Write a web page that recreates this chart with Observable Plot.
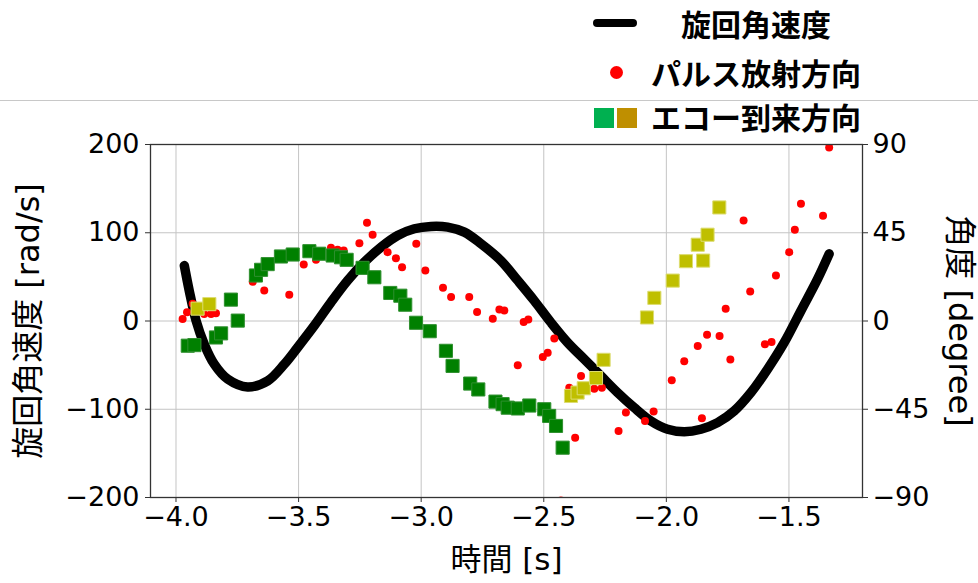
<!DOCTYPE html>
<html>
<head>
<meta charset="utf-8">
<script src="https://cdn.jsdelivr.net/npm/d3@7"></script>
<script src="https://cdn.jsdelivr.net/npm/@observablehq/plot@0.6"></script>
<style>
  body { margin: 0; background: white; }
  #wrap { position: relative; width: 978px; height: 583px; background: white; overflow: hidden; }
  #legend { position: relative; width: 978px; height: 130px; font-family: "Noto Sans CJK JP", sans-serif; }
  .lt { position: absolute; left: 556px; width: 400px; text-align: center; font-size: 30px; font-weight: bold; line-height: 30px; color: #000; white-space: nowrap; }
</style>
</head>
<body>
<div id="wrap">
  <div id="legend">
    <div style="position:absolute;left:0;top:100px;width:978px;height:1px;background:#c8c8c8"></div>
    <div style="position:absolute;left:593px;top:19px;width:44px;height:8px;border-radius:4px;background:#000"></div>
    <div class="lt" id="lg1" style="top:8px"></div>
    <div style="position:absolute;left:610px;top:66px;width:13px;height:13px;border-radius:50%;background:#ff0000"></div>
    <div class="lt" id="lg2" style="top:57px"></div>
    <div style="position:absolute;left:594px;top:108px;width:20px;height:20px;background:#00b050"></div>
    <div style="position:absolute;left:617px;top:108px;width:20px;height:20px;background:#bf8f00"></div>
    <div class="lt" id="lg3" style="top:101px"></div>
  </div>
  <div id="chart"></div>
</div>
<script>
// ---- data ----
const legendLabels = ["旋回角速度", "パルス放射方向", "エコー到来方向"];
const xLabel = "時間 [s]";
const yLeftLabel = "旋回角速度 [rad/s]";
const yRightLabel = "角度 [degree]";

const xTicks = [-4.0, -3.5, -3.0, -2.5, -2.0, -1.5];
const yLeftTicks = [-200, -100, 0, 100, 200];
const yRightTickLabels = [-90, -45, 0, 45, 90];

// rotation angular velocity (rad/s)
const curveTime  = [-3.966,-3.946,-3.918,-3.885,-3.844,-3.789,-3.708,-3.626,-3.558,-3.504,-3.436,-3.368,-3.300,-3.232,-3.164,-3.096,-3.028,-2.960,-2.892,-2.824,-2.756,-2.675,-2.606,-2.539,-2.471,-2.403,-2.335,-2.267,-2.199,-2.131,-2.063,-1.995,-1.927,-1.859,-1.791,-1.723,-1.655,-1.587,-1.519,-1.451,-1.383,-1.336];
const curveOmega = [62.8,34.4,0.3,-26.1,-48.9,-65.9,-74.7,-67.8,-48.9,-30.0,-5.3,21.1,45.8,66.6,83.6,96.9,104.5,107.2,106.4,100.7,87.5,68.5,45.8,23.1,-1.6,-24.3,-43.2,-62.2,-81.1,-98.2,-113.3,-122.7,-125.5,-122.7,-115.2,-101.9,-81.1,-54.5,-24.3,11.7,47.7,76.1];

// pulse emission direction (degree)
const pulseTime = [-3.973,-3.955,-3.932,-3.885,-3.857,-3.837,-3.687,-3.640,-3.538,-3.479,-3.429,-3.368,-3.341,-3.316,-3.252,-3.221,-3.198,-3.137,-3.103,-3.078,-3.020,-2.983,-2.911,-2.878,-2.804,-2.772,-2.708,-2.681,-2.661,-2.582,-2.563,-2.606,-2.457,-2.504,-2.484,-2.348,-2.396,-2.294,-2.263,-2.165,-2.195,-2.372,-2.430,-2.087,-2.052,-1.978,-1.927,-1.872,-1.834,-1.855,-1.783,-1.758,-1.739,-1.598,-1.571,-1.685,-1.658,-1.553,-1.499,-1.476,-1.451,-1.361,-1.336];
const pulseDeg  = [1.0,4.4,8.8,3.6,3.6,3.9,20.0,15.5,13.4,28.8,31.2,37.3,36.3,35.9,39.7,50.1,44.0,35.1,32.0,27.4,39.4,25.7,16.9,12.3,12.3,4.6,1.2,5.9,5.3,-0.5,0.8,-22.5,-8.9,-18.3,-16.2,-28.0,-34.0,-34.5,-34.0,-46.7,-56.1,-59.5,-91.5,-51.0,-46.2,-30.2,-20.5,-12.8,-7.0,-49.6,-7.7,6.3,-19.6,-11.8,-10.7,51.3,15.1,23.2,35.1,46.5,59.8,53.7,88.5];

// echo arrival direction (degree), green group
const echoGreenTime = [-3.952,-3.925,-3.837,-3.816,-3.776,-3.748,-3.674,-3.653,-3.626,-3.572,-3.524,-3.456,-3.416,-3.361,-3.327,-3.304,-3.239,-3.191,-3.126,-3.085,-3.065,-3.021,-2.965,-2.899,-2.872,-2.800,-2.767,-2.697,-2.668,-2.647,-2.606,-2.559,-2.498,-2.478,-2.450,-2.423];
const echoGreenDeg  = [-12.6,-12.3,-8.4,-6.3,10.9,0.2,23.2,26.1,29.0,32.9,33.9,35.6,34.3,33.4,32.5,31.2,27.1,22.3,14.3,12.9,8.3,-0.9,-5.2,-15.2,-22.9,-31.9,-34.9,-41.1,-42.4,-44.2,-44.6,-43.1,-45.0,-48.4,-53.5,-64.6];

// echo arrival direction (degree), yellow group
const echoYellowTime = [-3.912,-3.864,-2.389,-2.362,-2.337,-2.287,-2.256,-2.079,-2.049,-1.974,-1.920,-1.850,-1.872,-1.832,-1.784];
const echoYellowDeg  = [6.3,8.6,-38.2,-36.5,-34.3,-29.1,-19.8,1.8,11.8,20.6,30.5,30.8,38.9,44.0,57.9];

// ---- build ----
document.getElementById("lg1").textContent = legendLabels[0];
document.getElementById("lg2").textContent = legendLabels[1];
document.getElementById("lg3").textContent = legendLabels[2];

const degToLeft = 200 / 90;
const curve = curveTime.map((t, i) => ({t, v: curveOmega[i]}));
const pulse = pulseTime.map((t, i) => ({t, v: pulseDeg[i] * degToLeft}));
const green = echoGreenTime.map((t, i) => ({t, v: echoGreenDeg[i] * degToLeft}));
const yellow = echoYellowTime.map((t, i) => ({t, v: echoYellowDeg[i] * degToLeft}));

const fmtInt = d3.format("d");
const fmtX = d3.format(".1f");

const chart = Plot.plot({
  width: 978,
  height: 453,
  marginLeft: 150,
  marginRight: 116,
  marginTop: 14,
  marginBottom: 86,
  style: {fontFamily: "'DejaVu Sans', 'Noto Sans CJK JP', sans-serif", fontSize: "27px", color: "#000", background: "white", overflow: "visible"},
  x: {domain: [-4.104, -1.2]},
  y: {domain: [-200, 200]},
  marks: [
    Plot.gridX({ticks: xTicks, stroke: "#c4c4c4", strokeOpacity: 1, strokeWidth: 1}),
    Plot.gridY({ticks: yLeftTicks, stroke: "#c4c4c4", strokeOpacity: 1, strokeWidth: 1}),
    Plot.line(curve, {x: "t", y: "v", stroke: "#000", strokeWidth: 9.5, curve: "catmull-rom", strokeLinecap: "round", strokeLinejoin: "round"}),
    Plot.dot(pulse, {x: "t", y: "v", r: 4, fill: "#ff0000", stroke: "none", clip: true}),
    Plot.dot(green, {x: "t", y: "v", symbol: "square", r: 7.4, fill: "#008000", stroke: "#2f8f2f", strokeWidth: 1}),
    Plot.dot(yellow, {x: "t", y: "v", symbol: "square", r: 7.4, fill: "#bfbf00", stroke: "#dcdc70", strokeWidth: 1}),
    Plot.frame({stroke: "#333", strokeWidth: 1.3}),
    Plot.axisX({ticks: xTicks, tickFormat: fmtX, tickSize: 5, tickPadding: 4, label: null, fontSize: 27, stroke: "#333"}),
    Plot.axisY({anchor: "left", ticks: yLeftTicks, tickFormat: fmtInt, tickSize: 5, tickPadding: 6, label: null, fontSize: 27, stroke: "#333"}),
    Plot.axisY({anchor: "right", ticks: yLeftTicks, tickFormat: v => fmtInt(yRightTickLabels[yLeftTicks.indexOf(v)]), tickSize: 5, tickPadding: 5, label: null, fontSize: 27, stroke: "#333"}),
    Plot.text([yLeftLabel], {text: d => d, frameAnchor: "left", dx: -122, rotate: -90, textAnchor: "middle", lineAnchor: "middle", fontSize: 32, fill: "#000"}),
    Plot.text([yRightLabel], {text: d => d, frameAnchor: "right", dx: 97, rotate: 90, textAnchor: "middle", lineAnchor: "middle", fontSize: 32, fill: "#000"}),
    Plot.text([xLabel], {text: d => d, frameAnchor: "bottom", dy: 63, textAnchor: "middle", lineAnchor: "middle", fontSize: 31, fill: "#000"})
  ]
});
document.getElementById("chart").appendChild(chart);
</script>
</body>
</html>
